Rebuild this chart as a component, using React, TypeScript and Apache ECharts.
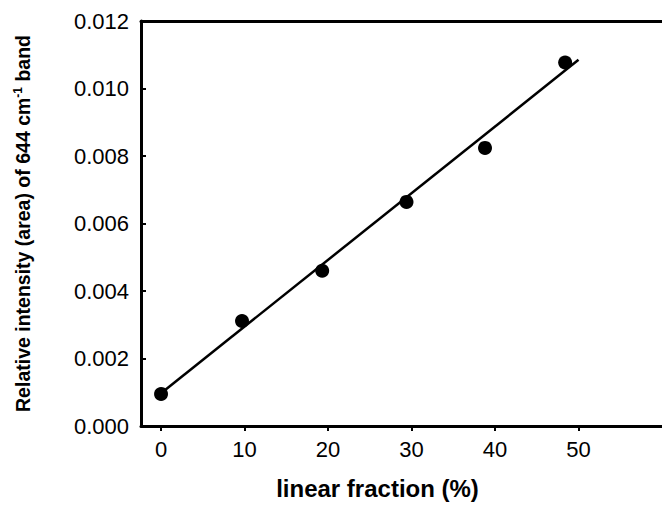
import React, { useEffect, useRef } from "react";
import * as echarts from "echarts";

// Measured points: linear fraction (%) vs relative intensity of the 644 cm-1 band
const fractionPct = [0, 9.7, 19.3, 29.4, 38.8, 48.4];
const intensity = [0.00095, 0.00311, 0.0046, 0.00664, 0.00824, 0.01077];

// Least-squares fit line end points
const fitX = [0, 50];
const fitY = [0.00097, 0.01085];

const xTicks = [0, 10, 20, 30, 40, 50];

const FONT = "Liberation Sans, Arial, Helvetica, sans-serif";

export default function App() {
  const ref = useRef<HTMLDivElement>(null);

  useEffect(() => {
    if (!ref.current) return;
    const chart = echarts.init(ref.current, null, { renderer: "svg" });
    const axisLine = { lineStyle: { color: "#000", width: 3 } };
    chart.setOption({
      animation: false,
      backgroundColor: "#fff",
      grid: { left: 141, right: -3, top: 21, bottom: 76 },
      xAxis: [
        {
          type: "value",
          min: -2.4,
          max: 60,
          axisLine: { ...axisLine, onZero: false },
          axisTick: {
            show: true,
            customValues: xTicks,
            length: 5,
            lineStyle: { color: "#000", width: 2 },
          },
          axisLabel: {
            customValues: xTicks,
            color: "#000",
            fontFamily: FONT,
            fontSize: 22,
            margin: 12,
          },
          splitLine: { show: false },
          name: "linear fraction (%)",
          nameLocation: "middle",
          nameGap: 50,
          nameTextStyle: {
            color: "#000",
            fontFamily: FONT,
            fontWeight: "bold",
            fontSize: 24,
            padding: [0, 0, 0, -48],
          },
        },
        {
          type: "value",
          position: "top",
          min: -2.4,
          max: 60,
          axisLine: { ...axisLine, onZero: false },
          axisTick: { show: false },
          axisLabel: { show: false },
          splitLine: { show: false },
        },
      ],
      yAxis: {
        type: "value",
        min: 0,
        max: 0.012,
        interval: 0.002,
        axisLine: { ...axisLine, onZero: false },
        axisTick: {
          show: true,
          inside: true,
          length: 5,
          lineStyle: { color: "#000", width: 2 },
        },
        axisLabel: {
          color: "#000",
          fontFamily: FONT,
          fontSize: 22,
          margin: 12,
          formatter: (v: number) => v.toFixed(3),
        },
        splitLine: { show: false },
        name: "{a|Relative intensity (area) of 644 cm}{s|-1}{a| band}",
        nameLocation: "middle",
        nameGap: 107,
        nameTextStyle: {
          rich: {
            a: {
              color: "#000",
              fontFamily: FONT,
              fontWeight: "bold",
              fontSize: 19.5,
              lineHeight: 22,
            },
            s: {
              color: "#000",
              fontFamily: FONT,
              fontWeight: "bold",
              fontSize: 12,
              lineHeight: 22,
              verticalAlign: "top",
              padding: [0, 0, 9, 0],
            },
          },
        },
      },
      series: [
        {
          type: "line",
          data: fitX.map((x, i) => [x, fitY[i]]),
          showSymbol: false,
          symbol: "none",
          lineStyle: { color: "#000", width: 2.5 },
          z: 2,
        },
        {
          type: "scatter",
          data: fractionPct.map((x, i) => [x, intensity[i]]),
          symbol: "circle",
          symbolSize: 14,
          itemStyle: { color: "#000", opacity: 1 },
          z: 3,
        },
      ],
    });
    return () => chart.dispose();
  }, []);

  return (
    <div
      ref={ref}
      style={{ position: "absolute", left: 0, top: 0, width: 662, height: 505 }}
    />
  );
}
